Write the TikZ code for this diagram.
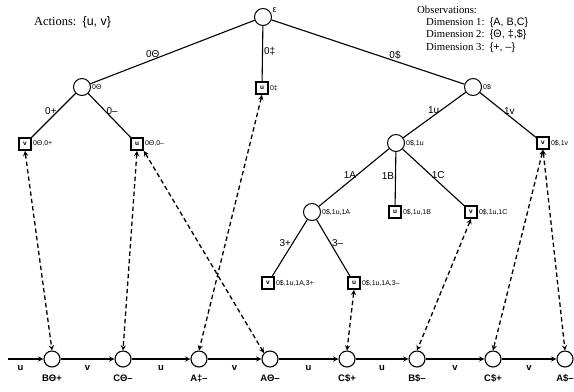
\documentclass[tikz,border=0pt]{standalone}
\usepackage{fontspec}
\setmainfont{Liberation Serif}
\setsansfont{Liberation Sans}
\usetikzlibrary{arrows}

\begin{document}
\begin{tikzpicture}[
    x=1bp, y=-1bp,
    hist/.style={circle, draw, line width=1bp, fill=white, minimum size=17bp, inner sep=0pt},
    leaf/.style={rectangle, draw, line width=1.7bp, fill=white, minimum size=12bp, inner sep=0pt, font=\sffamily\bfseries\fontsize{6.5}{6.5}\selectfont},
    tag/.style={font=\sffamily\fontsize{7}{7}\selectfont, inner sep=1bp},
    edgelab/.style={font=\sffamily\fontsize{10}{10}\selectfont, inner sep=1bp},
    tree/.style={line width=1.1bp},
    chain/.style={circle, draw, line width=1.1bp, fill=white, minimum size=16bp, inner sep=0pt},
    obs/.style={font=\sffamily\bfseries\fontsize{9.5}{9.5}\selectfont, inner sep=0pt},
    textblock/.style={font=\fontsize{10.8}{12.2}\selectfont, align=left, inner sep=0pt},
    arrow/.style={line width=1.4bp, ->, >=stealth},
    link/.style={line width=1.3bp, <->, >=stealth, dash pattern=on 4.5bp off 3bp}
]
    \useasboundingbox (0,0) rectangle (574,391);

    % Legend
    \node (actions) [textblock, font=\fontsize{12.5}{14}\selectfont, anchor=west] at (34,22) {Actions:\ \ \textsf{\{u, v\}}};
    \node (observations) [textblock, anchor=north west] at (417,6) {Observations:\\
        \hspace*{9bp}Dimension 1:\ \ \textsf{\{A, B,C\}}\\
        \hspace*{9bp}Dimension 2:\ \ \textsf{\{Θ, ‡,\$\}}\\
        \hspace*{9bp}Dimension 3:\ \ \textsf{\{+, --\}}};

    % Tree nodes
    \node (root) [hist, label={[tag, font=\sffamily\fontsize{9}{9}\selectfont]20:ε}] at (263,17) {};
    \node (n0t) [hist, label={[tag]right:0Θ}] at (82,87) {};
    \node (n0d) [leaf, label={[tag]right:0‡}] at (262,88) {u};
    \node (n0s) [hist, label={[tag]right:0\$}] at (473,87) {};
    \node (n0tp) [leaf, label={[tag]right:0Θ,0+}] at (25,144) {v};
    \node (n0tm) [leaf, label={[tag]right:0Θ,0--}] at (137,144) {u};
    \node (n1u) [hist, label={[tag]right:0\$,1u}] at (396,143) {};
    \node (n1v) [leaf, label={[tag]right:0\$,1v}] at (543,143) {v};
    \node (n1a) [hist, label={[tag]right:0\$,1u,1A}] at (312,212) {};
    \node (n1b) [leaf, label={[tag]right:0\$,1u,1B}] at (395,212) {u};
    \node (n1c) [leaf, label={[tag]right:0\$,1u,1C}] at (471,212) {v};
    \node (n3p) [leaf, label={[tag]right:0\$,1u,1A,3+}] at (268,283) {v};
    \node (n3m) [leaf, label={[tag]right:0\$,1u,1A,3--}] at (354,283) {u};

    % Tree edges
    \draw [tree] (root) -- (n0t) node[edgelab, pos=0.62, above] {0Θ};
    \draw [tree] (root) -- (n0d) node[edgelab, pos=0.45, right] {0‡};
    \draw [tree] (root) -- (n0s) node[edgelab, pos=0.64, above] {0\$};
    \draw [tree] (n0t) -- (n0tp) node[edgelab, pos=0.4, left] {0+};
    \draw [tree] (n0t) -- (n0tm) node[edgelab, pos=0.4, right] {0--};
    \draw [tree] (n0s) -- (n1u) node[edgelab, pos=0.4, left] {1u};
    \draw [tree] (n0s) -- (n1v) node[edgelab, pos=0.4, right] {1v};
    \draw [tree] (n1u) -- (n1a) node[edgelab, pos=0.45, left] {1A};
    \draw [tree] (n1u) -- (n1b) node[edgelab, pos=0.45, left] {1B};
    \draw [tree] (n1u) -- (n1c) node[edgelab, pos=0.45, right] {1C};
    \draw [tree] (n1a) -- (n3p) node[edgelab, pos=0.42, left] {3+};
    \draw [tree] (n1a) -- (n3m) node[edgelab, pos=0.42, right] {3--};

    % Instance chain
    \coordinate (start) at (8,359);
    \node (c1) [chain, label={[obs, label distance=7bp]below:BΘ+}] at (52,359) {};
    \node (c2) [chain, label={[obs, label distance=7bp]below:CΘ--}] at (123,359) {};
    \node (c3) [chain, label={[obs, label distance=7bp]below:A‡--}] at (199,359) {};
    \node (c4) [chain, label={[obs, label distance=7bp]below:AΘ--}] at (270,359) {};
    \node (c5) [chain, label={[obs, label distance=7bp]below:C\$+}] at (347,359) {};
    \node (c6) [chain, label={[obs, label distance=7bp]below:B\$--}] at (417,359) {};
    \node (c7) [chain, label={[obs, label distance=7bp]below:C\$+}] at (493,359) {};
    \node (c8) [chain, label={[obs, label distance=7bp]below:A\$--}] at (565,359) {};

    \draw [arrow] (start) -- (c1) node[obs, pos=0.35, below=6bp] {u};
    \draw [arrow] (c1) -- (c2) node[obs, midway, below=6bp] {v};
    \draw [arrow] (c2) -- (c3) node[obs, midway, below=6bp] {u};
    \draw [arrow] (c3) -- (c4) node[obs, midway, below=6bp] {v};
    \draw [arrow] (c4) -- (c5) node[obs, midway, below=6bp] {u};
    \draw [arrow] (c5) -- (c6) node[obs, midway, below=6bp] {u};
    \draw [arrow] (c6) -- (c7) node[obs, midway, below=6bp] {v};
    \draw [arrow] (c7) -- (c8) node[obs, midway, below=6bp] {v};

    % Leaf to instance links
    \draw [link] (n0tp.south) -- (c1.north);
    \draw [link] (n0tm.south) -- (c2.north);
    \draw [link] (n0tm.south east) -- (c4.north west);
    \draw [link] (n0d.south) -- (c3.north);
    \draw [link] (n3m.south) -- (c5.north);
    \draw [link] (n1c.south) -- (c6.north);
    \draw [link] (n1v.south) -- (c7.north);
    \draw [link] (n1v.south) -- (c8.north);

\end{tikzpicture}
\end{document}
